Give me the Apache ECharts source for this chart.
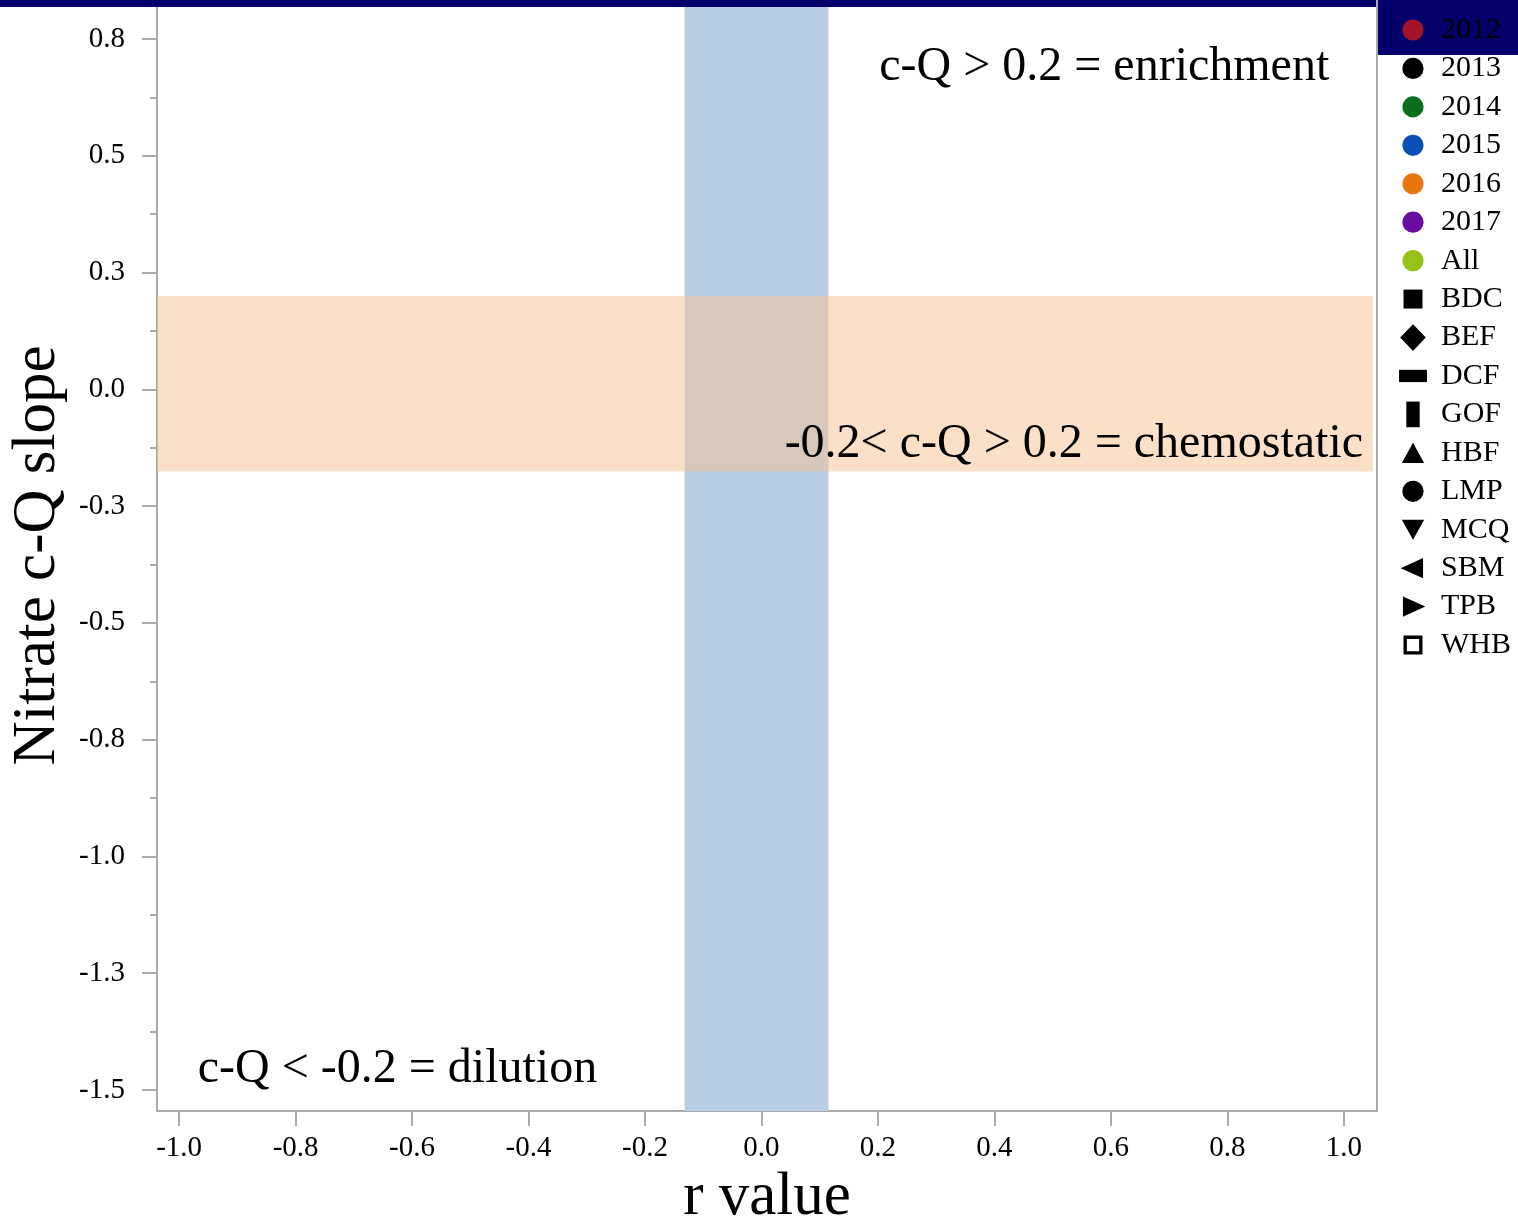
<!DOCTYPE html>
<html>
<head>
<meta charset="utf-8">
<script src="https://cdn.jsdelivr.net/npm/echarts@6/dist/echarts.min.js"></script>
<style>
  html, body { margin: 0; padding: 0; background: #ffffff; }
  #chart { width: 1518px; height: 1217px; }
</style>
</head>
<body>
<div id="chart"></div>
<script>
// ---- chart data ----
const yearNames  = ['2012', '2013', '2014', '2015', '2016', '2017', 'All'];
const yearColors = ['#a3122a', '#000000', '#0b6e1c', '#0a4fb3', '#e8760f', '#6b0aa3', '#97c21a'];
const siteNames  = ['BDC', 'BEF', 'DCF', 'GOF', 'HBF', 'LMP', 'MCQ', 'SBM', 'TPB', 'WHB'];

const xTicks      = [-1.0, -0.8, -0.6, -0.4, -0.2, 0.0, 0.2, 0.4, 0.6, 0.8, 1.0];
const yTicks      = [0.75, 0.5, 0.25, 0, -0.25, -0.5, -0.75, -1.0, -1.25, -1.5];
const yMinorTicks = [0.625, 0.375, 0.125, -0.125, -0.375, -0.625, -0.875, -1.125, -1.375];
const xRange = [-1.038, 1.057];
const yRange = [-1.545, 0.8335];

const rBand      = [-0.132, 0.115];  // near-zero r value band
const slopeBand  = [-0.176, 0.2];    // chemostatic slope band
const slopeBandX = [-1.038, 1.05];   // horizontal extent of the slope band

const zoneText  = ['c-Q > 0.2 = enrichment', '-0.2< c-Q > 0.2 = chemostatic', 'c-Q < -0.2 = dilution'];
const zoneX     = [0.975, 1.033, -0.968];
const zoneY     = [0.69, -0.118, -1.455];
const zoneAlign = ['right', 'right', 'left'];

// ---- legend glyphs, all drawn inside a 26x26 box ----
const BOX = 'M0 0M26 26';
const circle = 'path://' + BOX + 'M3.5 13A9.5 9.5 0 1 1 22.5 13A9.5 9.5 0 1 1 3.5 13Z';
const siteIcons = {
  BDC: 'path://' + BOX + 'M4.5 4.5H21.5V21.5H4.5Z',
  BEF: 'path://' + BOX + 'M13 1L24.5 13L13 25L1.5 13Z',
  DCF: 'path://' + BOX + 'M0.5 7.5H25.5V18.5H0.5Z',
  GOF: 'path://' + BOX + 'M7 1.5H19V24.5H7Z',
  HBF: 'path://' + BOX + 'M13 4L23 22H3Z',
  LMP: circle,
  MCQ: 'path://' + BOX + 'M3 4H23L13 22Z',
  SBM: 'path://' + BOX + 'M2 13L22 4V22Z',
  TPB: 'path://' + BOX + 'M4 4L24 13L4 22Z',
  WHB: 'path://' + BOX + 'M4.5 4.5H21.5V21.5H4.5Z M7.5 7.5V18.5H18.5V7.5Z'
};

const SERIF = "'Liberation Serif', 'Times New Roman', serif";
const AXIS_GREY = '#aaaaaa';
const fmt1 = v => Number(v).toFixed(1);

const series = [];

// Shaded bands and zone captions
series.push({
  name: 'zones',
  type: 'scatter',
  symbolSize: 0,
  silent: true,
  z: 1,
  itemStyle: { opacity: 1 },
  data: zoneText.map((t, i) => ({
    value: [zoneX[i], zoneY[i]],
    label: { formatter: t, align: zoneAlign[i] }
  })),
  label: {
    show: true,
    position: 'inside',
    verticalAlign: 'middle',
    color: '#000000',
    opacity: 1,
    fontFamily: SERIF,
    fontSize: 48
  },
  markArea: {
    silent: true,
    data: [
      [{ xAxis: rBand[0], itemStyle: { color: '#b8cce4', opacity: 1 } }, { xAxis: rBand[1] }],
      [
        { xAxis: slopeBandX[0], yAxis: slopeBand[0], itemStyle: { color: 'rgba(247,193,145,0.5)', opacity: 1 } },
        { xAxis: slopeBandX[1], yAxis: slopeBand[1] }
      ]
    ]
  }
});

yearNames.forEach((name, i) => {
  series.push({ name, type: 'scatter', symbol: circle, symbolSize: 14, data: [], itemStyle: { color: yearColors[i], opacity: 1 } });
});
siteNames.forEach(name => {
  series.push({ name, type: 'scatter', symbol: siteIcons[name], symbolSize: 14, data: [], itemStyle: { color: '#000000', opacity: 1 } });
});

const legendData = yearNames.map(n => ({ name: n, icon: circle }))
  .concat(siteNames.map(n => ({ name: n, icon: siteIcons[n] })));

const chart = echarts.init(document.getElementById('chart'), null, { renderer: 'canvas' });
chart.setOption({
  animation: false,
  backgroundColor: '#ffffff',
  grid: { left: 157, right: 141, top: 0, bottom: 106, containLabel: false, outerBoundsMode: 'none' },
  xAxis: {
    type: 'value',
    min: xRange[0], max: xRange[1],
    name: 'r value',
    nameLocation: 'middle',
    nameGap: 47,
    nameTextStyle: { fontFamily: SERIF, fontSize: 61, color: '#000' },
    axisLine: { show: true, onZero: false, lineStyle: { color: AXIS_GREY, width: 2 } },
    axisTick: { show: true, length: 15, customValues: xTicks, lineStyle: { color: AXIS_GREY, width: 2 } },
    axisLabel: { customValues: xTicks, formatter: fmt1, margin: 23, fontFamily: SERIF, fontSize: 29, color: '#000' },
    splitLine: { show: false }
  },
  yAxis: [
    {
      type: 'value',
      min: yRange[0], max: yRange[1],
      name: 'Nitrate c-Q slope',
      nameLocation: 'middle',
      nameGap: 85,
      nameRotate: 90,
      nameTextStyle: { fontFamily: SERIF, fontSize: 61, color: '#000' },
      axisLine: { show: true, onZero: false, lineStyle: { color: AXIS_GREY, width: 2 } },
      axisTick: { show: true, length: 15, customValues: yTicks, lineStyle: { color: AXIS_GREY, width: 2 } },
      axisLabel: { customValues: yTicks, formatter: fmt1, margin: 32, fontFamily: SERIF, fontSize: 29, color: '#000' },
      splitLine: { show: false }
    },
    {
      // minor ticks on the left axis
      type: 'value',
      position: 'left',
      min: yRange[0], max: yRange[1],
      axisLine: { show: false, onZero: false },
      axisTick: { show: true, length: 7, customValues: yMinorTicks, lineStyle: { color: AXIS_GREY, width: 2 } },
      axisLabel: { show: false },
      splitLine: { show: false }
    },
    {
      // right frame edge
      type: 'value',
      position: 'right',
      min: yRange[0], max: yRange[1],
      axisLine: { show: true, onZero: false, lineStyle: { color: AXIS_GREY, width: 2 } },
      axisTick: { show: false },
      axisLabel: { show: false },
      splitLine: { show: false }
    }
  ],
  legend: {
    data: legendData,
    orient: 'vertical',
    left: 1393.5,
    top: 10,
    itemWidth: 29,
    itemHeight: 29,
    itemGap: 8.44,
    selectedMode: false,
    z: 10,
    textStyle: { fontFamily: SERIF, fontSize: 30, color: '#000', padding: [0, 0, 0, 8.5] }
  },
  graphic: [
    { type: 'rect', z: 5, silent: true, shape: { x: 0, y: 0, width: 1376, height: 7 }, style: { fill: '#04006b' } },
    { type: 'rect', z: 5, silent: true, shape: { x: 1378, y: 0, width: 140, height: 55 }, style: { fill: '#04006b' } }
  ],
  series
});
</script>
</body>
</html>
